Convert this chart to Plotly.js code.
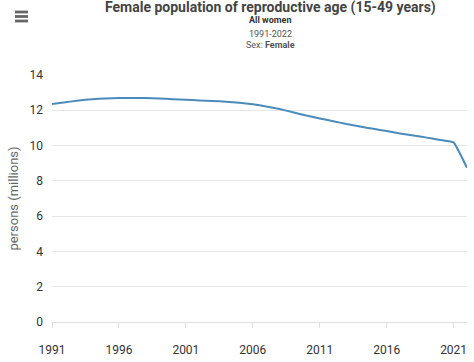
<!DOCTYPE html>
<html>
<head>
<meta charset="utf-8">
<script src="https://cdn.plot.ly/plotly-3.0.1.min.js"></script>
<style>
html,body{margin:0;padding:0;background:#fff;}
#chart{width:474px;height:362px;}
</style>
</head>
<body>
<div id="chart"></div>
<script>
const years = [1991,1992,1993,1994,1995,1996,1997,1998,1999,2000,2001,2002,2003,2004,2005,2006,2007,2008,2009,2010,2011,2012,2013,2014,2015,2016,2017,2018,2019,2020,2021,2022];
const femalesMillions = [12.36,12.45,12.56,12.63,12.67,12.70,12.70,12.69,12.67,12.63,12.60,12.56,12.53,12.49,12.43,12.34,12.22,12.07,11.89,11.70,11.54,11.38,11.22,11.08,10.95,10.82,10.69,10.57,10.45,10.32,10.18,8.74];
const xTickVals = [1991,1996,2001,2006,2011,2016,2021];
const yTickVals = [0,2,4,6,8,10,12,14];
const titleText = "Female population of reproductive age (15-49 years)";
const subtitle1 = "<b>All women</b>";
const subtitle2 = "1991-2022";
const subtitle3 = "Sex: <b>Female</b>";
const yTitle = "persons (millions)";

const W = 474, H = 362, ml = 52, mr = 7, mt = 75, mb = 40;
const pw = W - ml - mr, ph = H - mt - mb;
const px = x => (x - ml) / pw;
const py = y => 1 - (y - mt) / ph;

const font = "Roboto, 'Open Sans', sans-serif";
const cx = px(270);

const shapes = [];
[12, 16.5, 21].forEach(y => {
  shapes.push({type:'rect', xref:'paper', yref:'paper', x0:px(15), x1:px(28), y0:py(y-1.4), y1:py(y+1.4), fillcolor:'#666', line:{width:0}});
});

const data = [{
  x: years, y: femalesMillions, type:'scatter', mode:'lines',
  line:{color:'#4a8bbb', width:2, shape:'spline', smoothing:0.3},
  hoverinfo:'x+y'
}];

const layout = {
  width: W, height: H,
  margin:{l:ml, r:mr, t:mt, b:mb, pad:0},
  paper_bgcolor:'#fff', plot_bgcolor:'#fff',
  font:{family:font, color:'#333'},
  showlegend:false,
  xaxis:{
    range:[1991,2022], tickvals:xTickVals, ticktext:xTickVals.map(String),
    showgrid:false, zeroline:false, showline:false,
    ticks:'outside', ticklen:5, tickcolor:'#e0e0e0', tickwidth:1,
    tickfont:{size:12, color:'#333', family:font}, ticklabelstandoff:12
  },
  yaxis:{
    range:[0,14], tickvals:yTickVals, showgrid:true, gridcolor:'#e6e6e6', gridwidth:1,
    zeroline:true, zerolinecolor:'#e0e0e0', zerolinewidth:1, showline:false,
    ticks:'', tickfont:{size:12, color:'#333', family:font}, ticklabelstandoff:8,
    title:{text:yTitle, font:{size:13, color:'#666', family:font}, standoff:7}
  },
  shapes: shapes,
  annotations:[
    {text:"<b>"+titleText+"</b>", xref:'paper', yref:'paper', x:cx, y:py(7.5), xanchor:'center', yanchor:'middle', showarrow:false, font:{size:14, color:'#444', family:font}},
    {text:subtitle1, xref:'paper', yref:'paper', x:cx, y:py(20), xanchor:'center', yanchor:'middle', showarrow:false, font:{size:9, color:'#333', family:font}},
    {text:subtitle2, xref:'paper', yref:'paper', x:cx, y:py(33.5), xanchor:'center', yanchor:'middle', showarrow:false, font:{size:9, color:'#555', family:font}},
    {text:subtitle3, xref:'paper', yref:'paper', x:cx, y:py(44.5), xanchor:'center', yanchor:'middle', showarrow:false, font:{size:9, color:'#555', family:font}}
  ]
};

Plotly.newPlot('chart', data, layout, {displayModeBar:false, staticPlot:false});
</script>
</body>
</html>
